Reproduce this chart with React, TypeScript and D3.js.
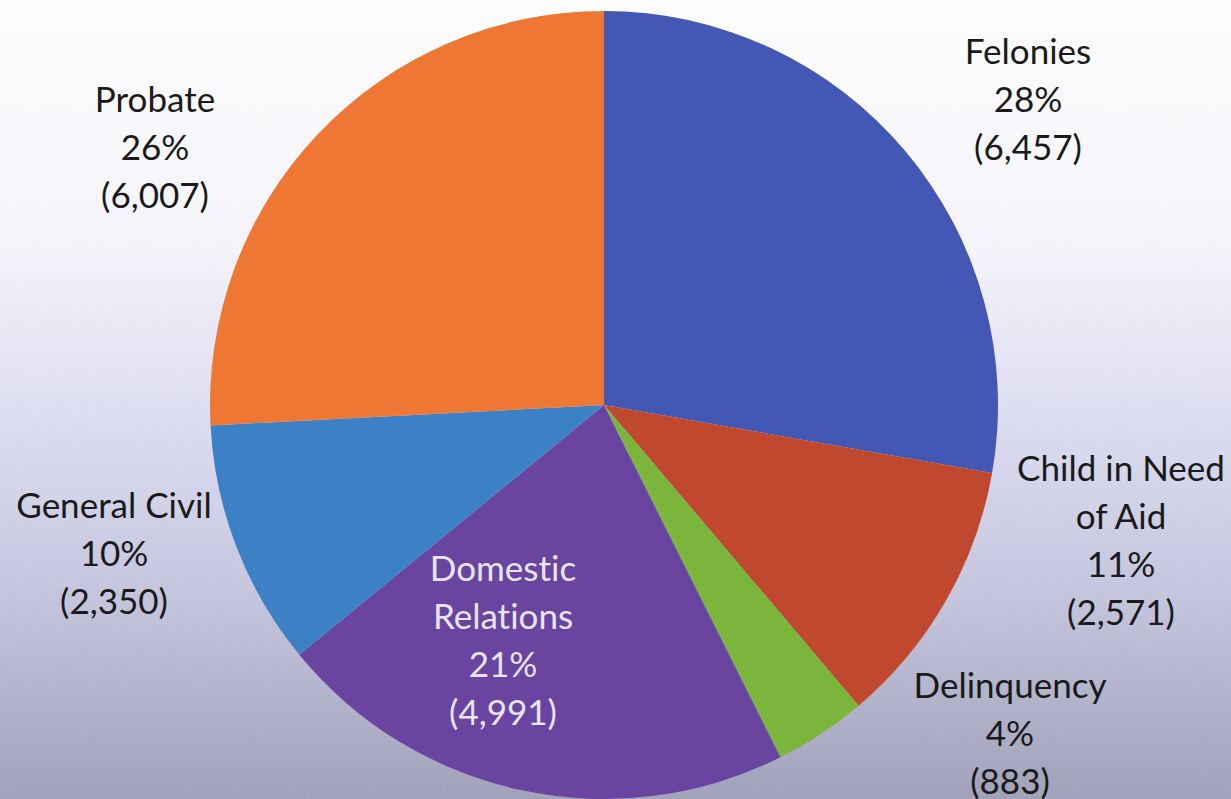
import { useEffect, useRef } from 'react'
import * as d3 from 'd3'

const categories = ['Felonies', 'Child in Need of Aid', 'Delinquency', 'Domestic Relations', 'General Civil', 'Probate']
const caseCounts = [6457, 2571, 883, 4991, 2350, 6007]
const percentLabels = ['28%', '11%', '4%', '21%', '10%', '26%']
const countLabels = ['(6,457)', '(2,571)', '(883)', '(4,991)', '(2,350)', '(6,007)']
const nameLines = [['Felonies'], ['Child in Need', 'of Aid'], ['Delinquency'], ['Domestic', 'Relations'], ['General Civil'], ['Probate']]
const sliceColors = ['#4357b5', '#c0482f', '#7bb53b', '#6945a1', '#3c80c5', '#ef7734']

// label block centres (first line centre), Excel "best fit" placement
const labelAnchors: [number, number][] = [
  [1028, 52], [1121, 469], [1010, 686], [503, 569], [114, 506], [155, 100],
]

const W = 1231
const H = 799

export default function App() {
  const svgRef = useRef<SVGSVGElement>(null)

  useEffect(() => {
    if (!svgRef.current) return
    const svg = d3.select(svgRef.current)
    svg.selectAll('*').remove()

    const defs = svg.append('defs')
    const bg = defs.append('linearGradient')
      .attr('id', 'bg').attr('x1', 0).attr('y1', 0).attr('x2', 0).attr('y2', 1)
    bg.append('stop').attr('offset', '0%').attr('stop-color', '#fdfdfe')
    bg.append('stop').attr('offset', '30%').attr('stop-color', '#f4f4fa')
    bg.append('stop').attr('offset', '52%').attr('stop-color', '#dcdcf1')
    bg.append('stop').attr('offset', '75%').attr('stop-color', '#c2c2dc')
    bg.append('stop').attr('offset', '100%').attr('stop-color', '#9e9eb8')

    const noise = defs.append('filter').attr('id', 'noise')
    noise.append('feTurbulence').attr('type', 'fractalNoise')
      .attr('baseFrequency', '0.9 0.05').attr('numOctaves', 2).attr('result', 't')
    noise.append('feColorMatrix').attr('type', 'matrix')
      .attr('values', '0 0 0 0 1  0 0 0 0 1  0 0 0 0 1  0 0 0 0.12 0')

    svg.append('rect').attr('width', W).attr('height', H).attr('fill', 'url(#bg)')
    svg.append('rect').attr('width', W).attr('height', H).attr('filter', 'url(#noise)').attr('opacity', 0.6)

    const cx = 604
    const cy = 405
    const radius = 394

    const pie = d3.pie<number>().sort(null).value(d => d)
    const arc = d3.arc<d3.PieArcDatum<number>>().innerRadius(0).outerRadius(radius)

    const g = svg.append('g').attr('transform', `translate(${cx},${cy})`)
    g.selectAll('path')
      .data(pie(caseCounts))
      .join('path')
      .attr('d', arc)
      .attr('fill', (_, i) => sliceColors[i])

    const lineH = 48
    const labels = svg.append('g')
      .attr('font-family', 'Lato, "Open Sans", sans-serif')
      .attr('font-size', 35)
      .attr('text-anchor', 'middle')
      .style('font-variant-ligatures', 'none')

    categories.forEach((name, i) => {
      const [lx, ly] = labelAnchors[i]
      const lines = [...nameLines[i], percentLabels[i], countLabels[i]]
      const t = labels.append('text')
        .attr('fill', name === 'Domestic Relations' ? '#e8e4f2' : '#1a1a1a')
      lines.forEach((s, j) => {
        t.append('tspan')
          .attr('x', lx)
          .attr('y', ly + j * lineH)
          .attr('dy', '0.35em')
          .text(s)
      })
    })
  }, [])

  return (
    <>
      <style>{'body{margin:0}'}</style>
      <svg ref={svgRef} width={W} height={H} style={{ display: 'block' }} />
    </>
  )
}
